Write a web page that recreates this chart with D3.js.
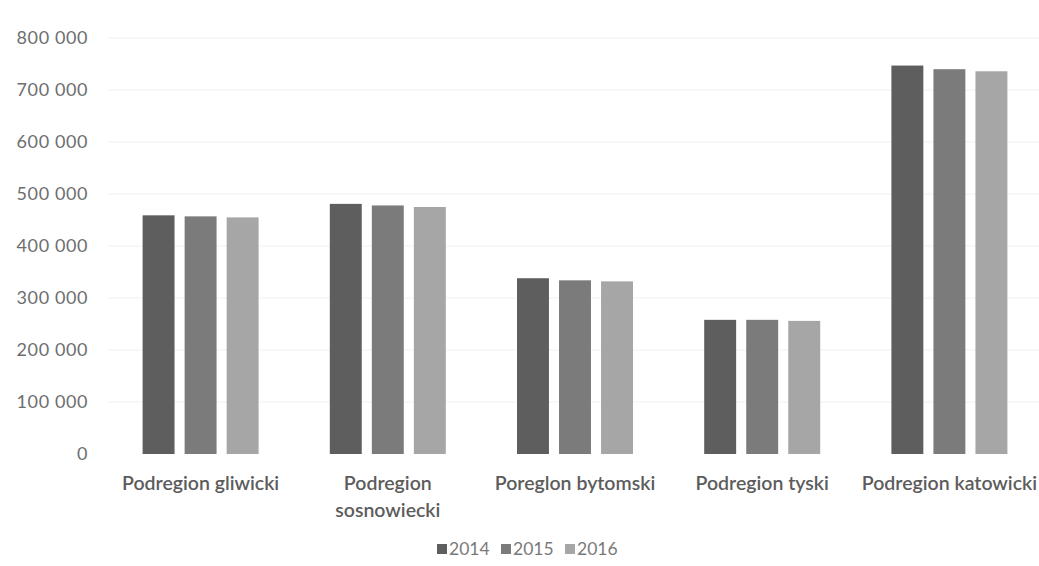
<!DOCTYPE html>
<html>
<head>
<meta charset="utf-8">
<script src="https://cdn.jsdelivr.net/npm/d3@7/dist/d3.min.js"></script>
<style>
  html, body { margin: 0; padding: 0; background: #ffffff; }
  svg { display: block; }
</style>
</head>
<body>
<svg id="chart" width="1039" height="566"></svg>
<script>
// Population of the subregions, 2014–2016
const categories = [
  ["Podregion gliwicki"],
  ["Podregion", "sosnowiecki"],
  ["Poreglon bytomski"],
  ["Podregion tyski"],
  ["Podregion katowicki"]
];
const years = ["2014", "2015", "2016"];
const values2014 = [459000, 481000, 338000, 258000, 747000];
const values2015 = [457000, 478000, 334000, 258000, 740000];
const values2016 = [455000, 475000, 332000, 256000, 736000];
const yTicks = [0, 100000, 200000, 300000, 400000, 500000, 600000, 700000, 800000];

const series = [values2014, values2015, values2016];
const colors = ["#5e5e5e", "#7b7b7b", "#a6a6a6"];

const svg = d3.select("#chart");
const font = "Lato, 'Open Sans', sans-serif";

const plot = { left: 107, right: 1043, top: 38, bottom: 454 };

const x0 = d3.scaleBand()
  .domain(d3.range(categories.length))
  .range([plot.left, plot.right])
  .paddingInner(0)
  .paddingOuter(0);

const groupWidth = 116;
const x1 = d3.scaleBand()
  .domain(years)
  .range([0, groupWidth])
  .paddingInner(0.24)
  .paddingOuter(0);

const y = d3.scaleLinear()
  .domain([0, 800000])
  .range([plot.bottom, plot.top]);

const fmt = v => d3.format(",")(v).replace(/,/g, " ");

// faint horizontal gridlines
svg.append("g")
  .selectAll("line")
  .data(yTicks.filter(t => t > 0))
  .join("line")
  .attr("x1", plot.left)
  .attr("x2", plot.right)
  .attr("y1", d => y(d))
  .attr("y2", d => y(d))
  .attr("stroke", "#f1f1f1")
  .attr("stroke-width", 1);

// y axis labels
const yAxis = d3.axisLeft(y).tickValues(yTicks).tickFormat(fmt).tickSize(0).tickPadding(0);
const yg = svg.append("g")
  .attr("transform", `translate(88,0)`)
  .call(yAxis);
yg.select(".domain").remove();
yg.selectAll("text")
  .attr("font-family", font)
  .attr("font-size", 18)
  .attr("letter-spacing", 0.6)
  .attr("fill", "#6e6e6e");

// bars
const groups = svg.append("g")
  .selectAll("g")
  .data(categories.map((c, i) => i))
  .join("g")
  .attr("transform", i => `translate(${x0(i) + (x0.bandwidth() - groupWidth) / 2},0)`);

groups.selectAll("rect")
  .data(i => years.map((yr, s) => ({ yr, s, v: series[s][i] })))
  .join("rect")
  .attr("x", d => x1(d.yr))
  .attr("width", x1.bandwidth())
  .attr("y", d => y(d.v))
  .attr("height", d => y(0) - y(d.v))
  .attr("fill", d => colors[d.s]);

// category labels
const labels = svg.append("g")
  .selectAll("text")
  .data(categories.map((c, i) => ({ c, i })))
  .join("text")
  .attr("x", d => x0(d.i) + x0.bandwidth() / 2)
  .attr("y", 490)
  .attr("text-anchor", "middle")
  .attr("font-family", font)
  .attr("font-size", 19.5)
  .attr("font-weight", 600)
  .attr("fill", "#5c5c5c");
labels.selectAll("tspan")
  .data(d => d.c)
  .join("tspan")
  .attr("x", function () { return d3.select(this.parentNode).attr("x"); })
  .attr("dy", (d, k) => k === 0 ? 0 : 27)
  .text(d => d);

// legend
const legend = svg.append("g").attr("transform", "translate(437,549)");
const legendItems = legend.selectAll("g")
  .data(years)
  .join("g")
  .attr("transform", (d, i) => `translate(${i * 64},0)`);
legendItems.append("rect")
  .attr("x", 0)
  .attr("y", -5)
  .attr("width", 10)
  .attr("height", 10)
  .attr("fill", (d, i) => colors[i]);
legendItems.append("text")
  .attr("x", 12)
  .attr("y", 0)
  .attr("dy", "0.36em")
  .attr("font-family", font)
  .attr("font-size", 17.5)
  .attr("fill", "#7a7a7a")
  .text(d => d);
</script>
</body>
</html>
